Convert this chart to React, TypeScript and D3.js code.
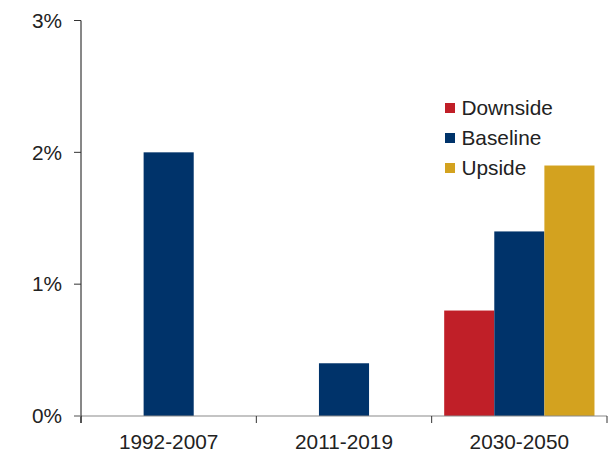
import React from "react";
import * as d3 from "d3";

const periods = ["1992-2007", "2011-2019", "2030-2050"];
const scenarios = ["Downside", "Baseline", "Upside"];
const scenarioColors = ["#C01F28", "#00336A", "#D3A21F"];
// Growth by period and scenario (percent); null where a scenario is not shown
const downsideValues: (number | null)[] = [null, null, 0.8];
const baselineValues: (number | null)[] = [2.0, 0.4, 1.4];
const upsideValues: (number | null)[] = [null, null, 1.9];
const yTicks = [0, 1, 2, 3];

const W = 610;
const H = 453;
const left = 81;
const right = 607;
const top = 20.5;
const bottom = 416;
const font = "'Liberation Sans', Arial, sans-serif";
const fs = 20.8;

export default function App() {
  const series = [downsideValues, baselineValues, upsideValues];
  const x = d3.scaleBand<string>().domain(periods).range([left, right]).paddingInner(0).paddingOuter(0);
  const xSub = d3
    .scaleBand<string>()
    .domain(scenarios)
    .range([0, x.bandwidth()])
    .paddingInner(0)
    .paddingOuter(0.25);
  const y = d3.scaleLinear().domain([0, 3]).range([bottom, top]);
  const boundaries = [...periods.map((p) => x(p) as number), right];

  return (
    <svg
      width={W}
      height={H}
      style={{ position: "absolute", left: 0, top: 0, background: "#fff" }}
      fontFamily={font}
    >
      {/* bars */}
      {series.map((vals, si) =>
        vals.map((v, pi) =>
          v == null ? null : (
            <rect
              key={`${si}-${pi}`}
              x={(x(periods[pi]) as number) + (xSub(scenarios[si]) as number)}
              y={y(v)}
              width={xSub.bandwidth()}
              height={bottom - y(v)}
              fill={scenarioColors[si]}
            />
          )
        )
      )}

      {/* x axis */}
      <line x1={74} x2={right} y1={bottom} y2={bottom} stroke="#8a8a8a" strokeWidth={1.2} />
      {boundaries.map((b, i) => (
        <line key={i} x1={b} x2={b} y1={bottom} y2={bottom + 7} stroke="#333" strokeWidth={1} />
      ))}
      {periods.map((p) => (
        <text
          key={p}
          x={(x(p) as number) + x.bandwidth() / 2}
          y={449}
          textAnchor="middle"
          fontSize={fs}
          fill="#222"
        >
          {p}
        </text>
      ))}

      {/* y axis */}
      <line x1={left} x2={left} y1={top} y2={bottom + 7} stroke="#111" strokeWidth={1} />
      {yTicks.map((t) => (
        <g key={t}>
          <line x1={74} x2={left} y1={y(t)} y2={y(t)} stroke={t === 0 ? "#8a8a8a" : "#333"} strokeWidth={1} />
          <text x={62} y={y(t)} dy="0.35em" textAnchor="end" fontSize={fs} fill="#222">
            {`${t}%`}
          </text>
        </g>
      ))}

      {/* legend */}
      {scenarios.map((s, i) => (
        <g key={s} transform={`translate(445, ${108 + i * 30})`}>
          <rect x={0} y={-5} width={10} height={10} fill={scenarioColors[i]} />
          <text x={16.5} y={0} dy="0.35em" fontSize={fs} fill="#222">
            {s}
          </text>
        </g>
      ))}
    </svg>
  );
}
